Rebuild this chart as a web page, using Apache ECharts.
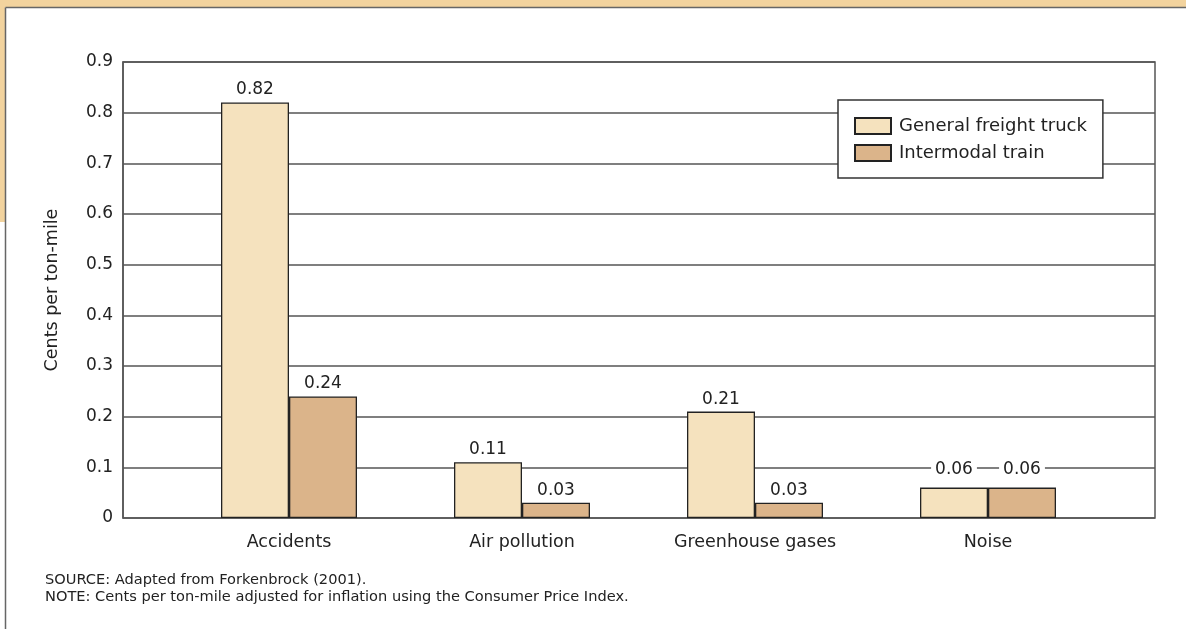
<!DOCTYPE html>
<html lang="en">
<head>
    <meta charset="UTF-8">
    <title>External costs</title>
    <script src="https://cdn.jsdelivr.net/npm/echarts@6/dist/echarts.min.js"></script>
    <style>
        html, body { margin: 0; padding: 0; background: #fff; }
    </style>
</head>
<body>
    <div id="main" style="width: 1186px; height: 629px"></div>
    <script>
        // categories and values
        var categories = ['Accidents', 'Air pollution', 'Greenhouse gases', 'Noise'];
        var truckValues = [0.82, 0.11, 0.21, 0.06];
        var trainValues = [0.24, 0.03, 0.03, 0.06];
        var seriesNames = ['General freight truck', 'Intermodal train'];
        var notes = [
            'SOURCE: Adapted from Forkenbrock (2001).',
            'NOTE: Cents per ton-mile adjusted for inflation using the Consumer Price Index.'
        ];

        var font = '"DejaVu Sans", sans-serif';
        var lineColor = '#555';
        var textColor = '#222';

        function labelStyle() {
            return {
                show: true,
                position: 'top',
                distance: 4,
                color: textColor,
                fontSize: 17,
                fontFamily: font,
                backgroundColor: '#fff',
                padding: [0, 4],
                formatter: function (p) { return p.value.toFixed(2); }
            };
        }

        // the Noise labels sit a little higher, on the 0.1 grid line
        function toData(values) {
            return values.map(function (v, i) {
                if (categories[i] === 'Noise') {
                    return { value: v, label: { distance: 10 } };
                }
                return v;
            });
        }

        echarts.init(document.getElementById('main')).setOption({
            backgroundColor: '#fff',
            animation: false,
            textStyle: { fontFamily: font },
            graphic: [
                // tan frame at top and left
                { type: 'rect', shape: { x: 0, y: 0, width: 1186, height: 7 }, style: { fill: '#F2D39E' } },
                { type: 'rect', shape: { x: 0, y: 0, width: 5, height: 222 }, style: { fill: '#F2D39E' } },
                { type: 'line', shape: { x1: 5.5, y1: 7.5, x2: 1186, y2: 7.5 }, style: { stroke: '#666', lineWidth: 1.5 } },
                { type: 'line', shape: { x1: 5.5, y1: 7.5, x2: 5.5, y2: 629 }, style: { stroke: '#666', lineWidth: 1.5 } },
                { type: 'text', left: 45, top: 573, style: { text: notes[0], fontSize: 14.6, fill: textColor, fontFamily: font } },
                { type: 'text', left: 45, top: 590, style: { text: notes[1], fontSize: 14.6, fill: textColor, fontFamily: font } }
            ],
            grid: [{
                // outer box with the value grid
                left: 123,
                right: 31,
                top: 62,
                bottom: 111,
                show: true,
                borderColor: lineColor,
                borderWidth: 1.5
            }, {
                // inner band where the categories sit
                left: 172.5,
                right: 81.5,
                top: 62,
                bottom: 111
            }],
            legend: {
                orient: 'vertical',
                left: 838,
                top: 100,
                data: seriesNames,
                backgroundColor: '#fff',
                borderColor: '#333',
                borderWidth: 1.5,
                padding: [17, 16, 16, 16],
                itemGap: 9,
                itemWidth: 36,
                itemHeight: 16,
                icon: 'rect',
                textStyle: { fontSize: 18, color: textColor, fontFamily: font, padding: [0, 0, 0, 3] }
            },
            xAxis: [{
                type: 'value',
                gridIndex: 0,
                show: false
            }, {
                type: 'category',
                gridIndex: 1,
                data: categories,
                axisLine: { show: false },
                axisTick: { show: false },
                axisLabel: { fontSize: 17.5, color: textColor, margin: 15 }
            }],
            yAxis: [{
                type: 'value',
                gridIndex: 0,
                min: 0,
                max: 0.9,
                interval: 0.1,
                name: 'Cents per ton-mile',
                nameLocation: 'middle',
                nameGap: 62,
                nameTextStyle: { fontSize: 17.5, color: textColor },
                axisLine: { show: true, lineStyle: { color: lineColor, width: 1.5 } },
                axisTick: { show: false },
                axisLabel: {
                    fontSize: 17,
                    color: textColor,
                    margin: 10,
                    formatter: function (v) { return v === 0 ? '0' : v.toFixed(1); }
                },
                splitLine: { lineStyle: { color: lineColor, width: 1.5 } }
            }, {
                type: 'value',
                gridIndex: 1,
                min: 0,
                max: 0.9,
                interval: 0.1,
                show: false
            }],
            series: [{
                name: seriesNames[0],
                type: 'bar',
                xAxisIndex: 1,
                yAxisIndex: 1,
                data: toData(truckValues),
                barWidth: 68,
                barGap: '0%',
                itemStyle: { color: '#F5E2BE', borderColor: '#222', borderWidth: 1.3 },
                label: labelStyle()
            }, {
                name: seriesNames[1],
                type: 'bar',
                xAxisIndex: 1,
                yAxisIndex: 1,
                data: toData(trainValues),
                barWidth: 68,
                barGap: '0%',
                itemStyle: { color: '#DBB48A', borderColor: '#222', borderWidth: 1.3 },
                label: labelStyle()
            }]
        });
    </script>
</body>
</html>
